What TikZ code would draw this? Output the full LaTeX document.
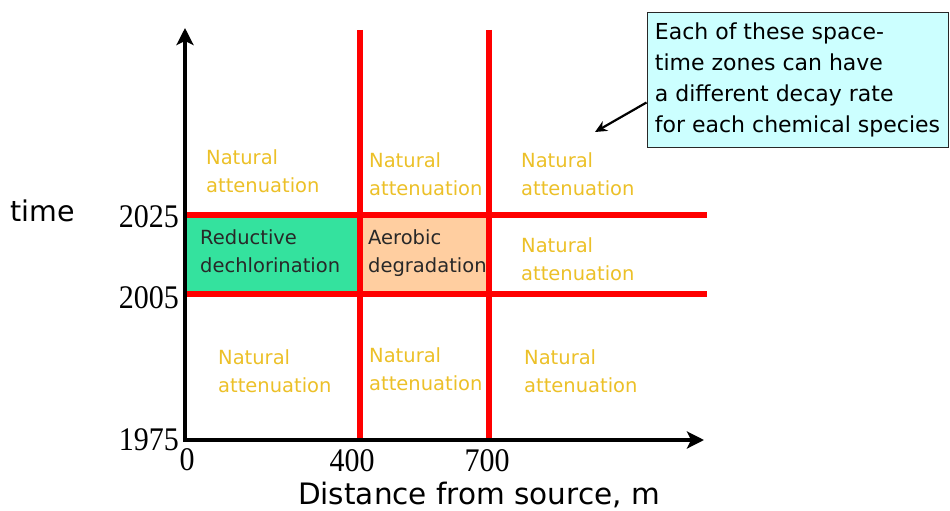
\documentclass[tikz,border=0pt]{standalone}
\usepackage{fontspec}
\setmainfont{DejaVu Sans}
\newfontfamily\numfont{Liberation Serif}
\usepackage{tikz}
\usetikzlibrary{positioning,arrows.meta,calc}
\usepackage{xcolor}
\definecolor{zonered}{RGB}{255,0,0}
\definecolor{natgold}{RGB}{236,192,40}
\definecolor{redgreen}{RGB}{52,226,158}
\definecolor{aeropeach}{RGB}{255,206,160}
\definecolor{notecyan}{RGB}{204,255,255}
\definecolor{labgray}{RGB}{40,40,40}

\begin{document}
\begin{tikzpicture}[
    x=1pt, y=-1pt,
    axis/.style={line width=4.5pt, -{Stealth[length=17pt,width=17pt,inset=4pt]}},
    bound/.style={draw=zonered, line width=5.5pt},
    zone/.style={anchor=north west, inner sep=0pt, align=left, font=\fontsize{19.5}{28}\selectfont},
    natlab/.style={zone, text=natgold},
    proclab/.style={zone, text=labgray},
    tick/.style={font=\numfont\fontsize{30}{30}\selectfont, inner sep=0pt, yscale=1.1},
    pointer/.style={-{Stealth[length=12pt,width=11pt]}, line width=2.2pt}
]
    \useasboundingbox (0,0) rectangle (950,511);

    % axes corners
    \coordinate (o) at (185,440);
    \coordinate (ytop) at (185,28);
    \coordinate (xend) at (704,440);

    % treatment zones
    \fill[redgreen] (185,215) rectangle (360,294);
    \fill[aeropeach] (360,215) rectangle (489,294);

    % zone boundaries
    \draw[bound] (185,215) -- (707,215);
    \draw[bound] (185,294) -- (707,294);
    \draw[bound] (360,30) -- (360,440);
    \draw[bound] (489,30) -- (489,440);

    \draw[axis] ([xshift=-2.25pt]o) -- (xend);
    \draw[axis] (o) -- (ytop);

    % zone labels
    \node[natlab] (na1) at (206,149) {Natural\\attenuation};
    \node[natlab] (na2) at (369,152) {Natural\\attenuation};
    \node[natlab] (na3) at (521,152) {Natural\\attenuation};
    \node[natlab] (na4) at (521,237) {Natural\\attenuation};
    \node[natlab] (na5) at (218,349) {Natural\\attenuation};
    \node[natlab] (na6) at (369,347) {Natural\\attenuation};
    \node[natlab] (na7) at (524,349) {Natural\\attenuation};
    \node[proclab] (rd) at (200,229) {Reductive\\dechlorination};
    \node[proclab] (ad) at (368,229) {Aerobic\\degradation};

    % axis labels
    \node[tick, anchor=east] (t2025) at (179,217) {2025};
    \node[tick, anchor=east] (t2005) at (179,298) {2005};
    \node[tick, anchor=east] (t1975) at (179,440) {1975};
    \node[tick] (x0) at (187,460) {0};
    \node[tick] (x400) at (352,461) {400};
    \node[tick] (x700) at (487,461) {700};
    \node[font=\fontsize{28.5}{28.5}\selectfont] (tlab) at (43,211) {time};
    \node[font=\fontsize{29.5}{29.5}\selectfont] (dlab) at (479,495) {Distance from source, m};

    % callout
    \node[draw=labgray, fill=notecyan, line width=1pt, minimum width=301pt, minimum height=134pt,
          align=left, inner sep=0pt, font=\fontsize{22}{31}\selectfont] (note) at (797.5,80)
          {Each of these space-\\time zones can have\\a different decay rate\\for each chemical species};
    \coordinate (tip) at (595,132);
    \draw[pointer] ([yshift=45pt]note.south west) -- (tip);
\end{tikzpicture}
\end{document}
